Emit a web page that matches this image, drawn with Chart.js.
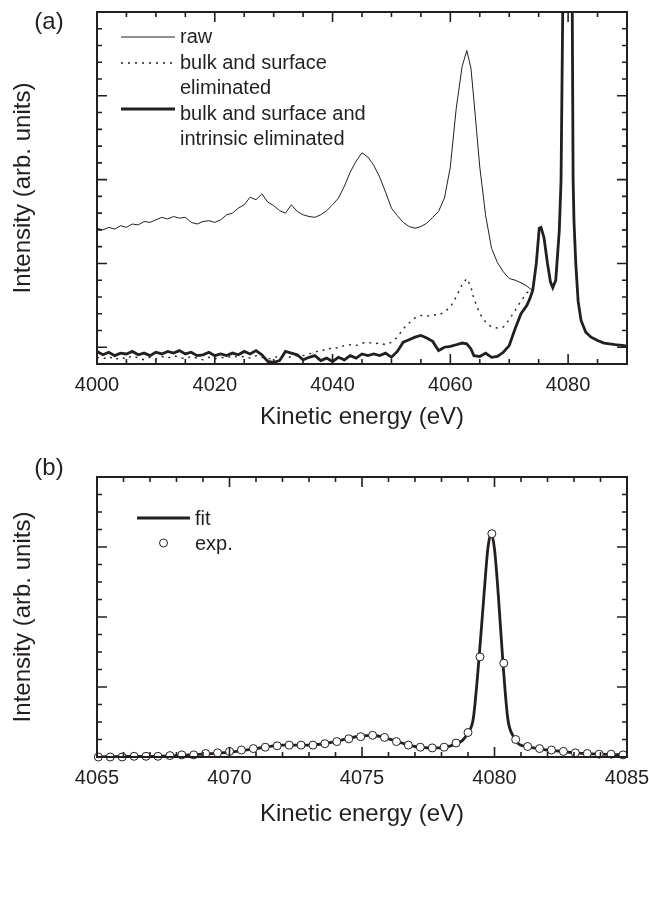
<!DOCTYPE html>
<html>
<head>
<meta charset="utf-8">
<title>Kinetic energy spectra</title>
<script src="https://cdn.jsdelivr.net/npm/chart.js@4.4.0/dist/chart.umd.min.js"></script>
<style>
  html, body { margin: 0; padding: 0; background: #fff; }
  #wrap { position: relative; width: 649px; height: 906px; }
  canvas { position: absolute; left: 0; }
  #chart-a { top: 0; }
  #chart-b { top: 440px; }
</style>
</head>
<body>
<div id="wrap">
  <canvas id="chart-a" width="649" height="440"></canvas>
  <canvas id="chart-b" width="649" height="466"></canvas>
</div>
<script>
// ---- panel (a) data ----
const seriesNamesA = ['raw', 'bulk and surface\neliminated', 'bulk and surface and\nintrinsic eliminated'];
const xTicksA = [4000, 4020, 4040, 4060, 4080];

// energies shared by the three curves below 4074 eV
const lowEnergy = [
  4000, 4001, 4002, 4003, 4004, 4005, 4006, 4007, 4008, 4009,
  4010, 4011, 4012, 4013, 4014, 4015, 4016, 4017, 4018, 4019,
  4020, 4021, 4022, 4023, 4024, 4025, 4026, 4027, 4028, 4029,
  4030, 4031, 4032, 4033, 4034, 4035, 4036, 4037, 4038, 4039,
  4040, 4041, 4042, 4043, 4044, 4045, 4046, 4047, 4048, 4049,
  4050, 4051, 4052, 4053, 4054, 4055, 4056, 4057, 4058, 4059,
  4060, 4061, 4062, 4062.8, 4063.5, 4064, 4065, 4066, 4067, 4068,
  4069, 4070, 4071, 4072, 4073, 4073.5
];
const rawLow = [
  1.42, 1.40, 1.43, 1.41, 1.45, 1.43, 1.47, 1.46, 1.50, 1.49,
  1.52, 1.55, 1.53, 1.56, 1.54, 1.55, 1.49, 1.47, 1.50, 1.51,
  1.49, 1.52, 1.58, 1.60, 1.66, 1.70, 1.79, 1.76, 1.83, 1.73,
  1.69, 1.63, 1.60, 1.70, 1.62, 1.58, 1.56, 1.55, 1.58, 1.63,
  1.70, 1.78, 1.92, 2.09, 2.22, 2.32, 2.27, 2.17, 2.03, 1.85,
  1.66, 1.57, 1.49, 1.44, 1.42, 1.44, 1.48, 1.55, 1.62, 1.78,
  2.15, 2.85, 3.35, 3.54, 3.33, 2.95, 2.15, 1.57, 1.18, 1.01,
  0.90, 0.82, 0.80, 0.77, 0.73, 0.70
];
const bulkSurfaceLow = [
  -0.12, -0.14, -0.11, -0.15, -0.12, -0.14, -0.10, -0.13, -0.15, -0.12,
  -0.14, -0.11, -0.13, -0.10, -0.12, -0.14, -0.11, -0.13, -0.15, -0.12,
  -0.14, -0.12, -0.13, -0.10, -0.12, -0.11, -0.13, -0.10, -0.12, -0.14,
  -0.13, -0.10, -0.11, -0.12, -0.10, -0.10, -0.08, -0.06, -0.03, -0.04,
  0.00, -0.01, 0.02, 0.03, 0.02, 0.05, 0.06, 0.04, 0.05, 0.03,
  0.06, 0.12, 0.22, 0.29, 0.35, 0.38, 0.37, 0.39, 0.38, 0.42,
  0.48, 0.60, 0.75, 0.82, 0.72, 0.58, 0.40, 0.30, 0.24, 0.23,
  0.24, 0.33, 0.44, 0.55, 0.65, 0.67
];
const intrinsicLow = [
  -0.05, -0.09, -0.06, -0.10, -0.07, -0.08, -0.05, -0.09, -0.07, -0.10,
  -0.06, -0.08, -0.05, -0.07, -0.04, -0.08, -0.06, -0.10, -0.09, -0.06,
  -0.10, -0.08, -0.10, -0.07, -0.09, -0.05, -0.08, -0.04, -0.09, -0.17,
  -0.18, -0.16, -0.05, -0.07, -0.09, -0.15, -0.12, -0.10, -0.16, -0.13,
  -0.17, -0.12, -0.15, -0.10, -0.13, -0.08, -0.10, -0.08, -0.10, -0.07,
  -0.12, -0.05, 0.06, 0.09, 0.12, 0.14, 0.11, 0.07, -0.04, 0.00,
  0.01, 0.03, 0.05, 0.04, -0.02, -0.10, -0.11, -0.07, -0.12, -0.11,
  -0.06, 0.02, 0.22, 0.40, 0.50, 0.58
];
// above 4074 eV the three curves coincide
const highEnergy = [
  4074, 4074.6, 4075.1, 4075.4, 4075.9, 4076.5, 4077, 4077.4, 4077.9, 4078.5,
  4078.8, 4079.1, 4079.5, 4079.9, 4080.3, 4080.7, 4080.85, 4081, 4081.3, 4081.7,
  4082.2, 4083, 4083.9, 4085, 4086.1, 4088, 4089.5, 4090
];
const highIntensity = [
  0.68, 1.00, 1.42, 1.43, 1.31, 1.00, 0.78, 0.71, 0.80, 1.39,
  1.99, 4.10, 7.00, 8.00, 7.00, 4.10, 2.00, 1.50, 1.00, 0.55,
  0.32, 0.18, 0.12, 0.08, 0.05, 0.03, 0.02, 0.01
];

// ---- panel (b) data ----
const seriesNamesB = ['fit', 'exp.'];
const xTicksB = [4065, 4070, 4075, 4080, 4085];
const fitEnergy = [
  4065, 4066, 4067, 4068, 4069, 4070, 4071, 4072, 4073, 4074,
  4074.5, 4075, 4075.3, 4075.6, 4076, 4076.5, 4077, 4077.5, 4078, 4078.5,
  4078.8, 4079.0, 4079.2, 4079.42, 4079.6, 4079.75, 4079.87, 4080.0, 4080.15, 4080.32,
  4080.5, 4080.7, 4080.9, 4081.2, 4081.5, 4082, 4082.5, 4083, 4084, 4085
];
const fitIntensity = [
  0.00, 0.01, 0.01, 0.02, 0.04, 0.07, 0.12, 0.17, 0.17, 0.22,
  0.27, 0.30, 0.31, 0.30, 0.26, 0.20, 0.15, 0.13, 0.13, 0.18,
  0.24, 0.35, 0.55, 1.43, 2.30, 2.98, 3.19, 2.97, 2.28, 1.34,
  0.55, 0.30, 0.19, 0.15, 0.13, 0.10, 0.08, 0.06, 0.04, 0.03
];
const expEnergy = [
  4065.05, 4065.5, 4065.95, 4066.4, 4066.85, 4067.3, 4067.75, 4068.2, 4068.65, 4069.1,
  4069.55, 4070.0, 4070.45, 4070.9, 4071.35, 4071.8, 4072.25, 4072.7, 4073.15, 4073.6,
  4074.05, 4074.5, 4074.95, 4075.4, 4075.85, 4076.3, 4076.75, 4077.2, 4077.65, 4078.1,
  4078.55, 4079.0, 4079.45, 4079.9, 4080.35, 4080.8, 4081.25, 4081.7, 4082.15, 4082.6,
  4083.05, 4083.5, 4083.95, 4084.4, 4084.85
];
const expIntensity = [
  0.00, 0.00, 0.00, 0.01, 0.01, 0.01, 0.02, 0.03, 0.03, 0.05,
  0.06, 0.08, 0.10, 0.12, 0.14, 0.16, 0.17, 0.17, 0.17, 0.19,
  0.22, 0.26, 0.29, 0.31, 0.28, 0.22, 0.17, 0.14, 0.13, 0.14,
  0.20, 0.35, 1.43, 3.19, 1.34, 0.25, 0.15, 0.12, 0.10, 0.08,
  0.06, 0.05, 0.04, 0.04, 0.03
];

const ink = '#231f20';
const fontFamily = '"Liberation Sans", Arial, Helvetica, sans-serif';
Chart.defaults.font.family = fontFamily;
Chart.defaults.color = ink;

function pairUp(xs, ys) {
    return xs.map((x, i) => ({ x: x, y: ys[i] }));
}

// box frame with inward ticks on all four sides
const frameTicks = {
    id: 'frameTicks',
    afterDatasetsDraw(chart, args, opts) {
        const { ctx, chartArea: a } = chart;
        const sx = chart.scales.x, sy = chart.scales.y;
        ctx.save();
        ctx.strokeStyle = ink;
        ctx.lineWidth = 1.6;
        ctx.beginPath();
        const nx = Math.round((sx.max - sx.min) / opts.xMinor);
        for (let i = 0; i <= nx; i++) {
            const v = sx.min + i * opts.xMinor;
            const r = v / opts.xMajor;
            const len = Math.abs(r - Math.round(r)) < 1e-6 ? opts.major : opts.minor;
            const px = sx.getPixelForValue(v);
            ctx.moveTo(px, a.bottom); ctx.lineTo(px, a.bottom - len);
            ctx.moveTo(px, a.top); ctx.lineTo(px, a.top + len);
        }
        const ny = Math.round((sy.max - sy.min) / opts.yMinor);
        for (let i = 0; i <= ny; i++) {
            const v = sy.min + i * opts.yMinor;
            const r = v / opts.yMajor;
            const len = Math.abs(r - Math.round(r)) < 1e-6 ? opts.major : opts.minor;
            const py = sy.getPixelForValue(v);
            ctx.moveTo(a.left, py); ctx.lineTo(a.left + len, py);
            ctx.moveTo(a.right, py); ctx.lineTo(a.right - len, py);
        }
        ctx.stroke();
        ctx.lineWidth = 2;
        ctx.strokeRect(a.left, a.top, a.right - a.left, a.bottom - a.top);
        ctx.restore();
    }
};

// in-plot legend and the (a)/(b) tag
const panelLegend = {
    id: 'panelLegend',
    afterDraw(chart, args, opts) {
        const ctx = chart.ctx;
        ctx.save();
        ctx.strokeStyle = ink;
        ctx.fillStyle = ink;
        ctx.font = opts.fontSize + 'px ' + fontFamily;
        ctx.textAlign = 'left';
        ctx.textBaseline = 'alphabetic';
        let row = 0;
        chart.data.datasets.forEach((ds, k) => {
            const sy = opts.sampleY[k];
            ctx.beginPath();
            if (ds.showLine === false) {
                ctx.lineWidth = ds.pointBorderWidth;
                ctx.fillStyle = '#fff';
                ctx.arc(opts.sampleX + opts.sampleWidth / 2, sy, ds.pointRadius, 0, Math.PI * 2);
                ctx.fill();
                ctx.stroke();
                ctx.fillStyle = ink;
            } else {
                ctx.lineWidth = ds.borderWidth;
                ctx.setLineDash(ds.borderDash || []);
                ctx.moveTo(opts.sampleX, sy);
                ctx.lineTo(opts.sampleX + opts.sampleWidth, sy);
                ctx.stroke();
                ctx.setLineDash([]);
            }
            ds.label.split('\n').forEach(t => {
                ctx.fillText(t, opts.textX, opts.top + row * opts.lineHeight);
                row++;
            });
        });
        ctx.font = opts.tagSize + 'px ' + fontFamily;
        ctx.textAlign = 'center';
        ctx.textBaseline = 'middle';
        ctx.fillText(opts.tag, opts.tagX, opts.tagY);
        ctx.restore();
    }
};

function axisX(min, max, tickValues, bottomPad, boxHeight) {
    return {
        type: 'linear', min: min, max: max,
        grid: { display: false, drawTicks: false },
        border: { display: false },
        afterBuildTicks: s => { s.ticks = tickValues.map(v => ({ value: v })); },
        ticks: { padding: 9, font: { size: 20 }, color: ink, maxRotation: 0, autoSkip: false, callback: v => String(v) },
        title: { display: true, text: 'Kinetic energy (eV)', font: { size: 24 }, color: ink, padding: { top: 0, bottom: bottomPad } },
        afterFit: s => {
            s.height = boxHeight;
            // let the end labels hang over the frame instead of shrinking it
            s.paddingLeft = 0;
            s.paddingRight = 0;
        }
    };
}
function axisY(min, max) {
    return {
        type: 'linear', min: min, max: max,
        grid: { display: false, drawTicks: false },
        border: { display: false },
        ticks: { display: false },
        title: { display: true, text: 'Intensity (arb. units)', font: { size: 24 }, color: ink, padding: { top: 9, bottom: 0 } },
        afterFit: s => { s.width = 97; s.paddingTop = 0; s.paddingBottom = 0; }
    };
}

new Chart(document.getElementById('chart-a'), {
    type: 'scatter',
    data: {
        datasets: [
            { label: seriesNamesA[0], data: pairUp(lowEnergy.concat(highEnergy), rawLow.concat(highIntensity)),
              showLine: true, borderColor: ink, borderWidth: 1, pointRadius: 0, tension: 0 },
            { label: seriesNamesA[1], data: pairUp(lowEnergy.concat(highEnergy), bulkSurfaceLow.concat(highIntensity)),
              showLine: true, borderColor: ink, borderWidth: 1.4, borderDash: [2, 5], pointRadius: 0, tension: 0 },
            { label: seriesNamesA[2], data: pairUp(lowEnergy.concat(highEnergy), intrinsicLow.concat(highIntensity)),
              showLine: true, borderColor: ink, borderWidth: 2.8, pointRadius: 0, tension: 0 }
        ]
    },
    options: {
        responsive: false,
        animation: false,
        events: [],
        layout: { padding: { top: 12, right: 22, left: 0, bottom: 0 } },
        plugins: {
            legend: { display: false },
            tooltip: { enabled: false },
            frameTicks: { xMinor: 5, xMajor: 20, yMinor: 0.2, yMajor: 1, major: 10, minor: 5 },
            panelLegend: { fontSize: 20, sampleX: 121, sampleWidth: 54, textX: 180, top: 43, lineHeight: 25.5,
                           sampleY: [37, 63, 109], tag: '(a)', tagSize: 24, tagX: 49, tagY: 22 }
        },
        scales: {
            x: axisX(4000, 4090, xTicksA, 8, 76),
            y: axisY(-0.2, 4)
        }
    },
    plugins: [frameTicks, panelLegend]
});

new Chart(document.getElementById('chart-b'), {
    type: 'scatter',
    data: {
        datasets: [
            { label: seriesNamesB[0], data: pairUp(fitEnergy, fitIntensity), order: 1,
              showLine: true, borderColor: ink, borderWidth: 2.8, pointRadius: 0, cubicInterpolationMode: 'monotone' },
            { label: seriesNamesB[1], data: pairUp(expEnergy, expIntensity), order: 0, clip: false,
              showLine: false, pointRadius: 4, pointBorderWidth: 1, pointBorderColor: ink, pointBackgroundColor: '#fff', borderColor: ink }
        ]
    },
    options: {
        responsive: false,
        animation: false,
        events: [],
        layout: { padding: { top: 37, right: 22, left: 0, bottom: 0 } },
        plugins: {
            legend: { display: false },
            tooltip: { enabled: false },
            frameTicks: { xMinor: 1, xMajor: 5, yMinor: 0.25, yMajor: 1, major: 10, minor: 5 },
            panelLegend: { fontSize: 20, sampleX: 137, sampleWidth: 53, textX: 195, top: 85, lineHeight: 25,
                           sampleY: [78, 103], tag: '(b)', tagSize: 24, tagX: 49, tagY: 28 }
        },
        scales: {
            x: axisX(4065, 4085, xTicksB, 77, 149),
            y: axisY(0, 4)
        }
    },
    plugins: [frameTicks, panelLegend]
});
</script>
</body>
</html>
